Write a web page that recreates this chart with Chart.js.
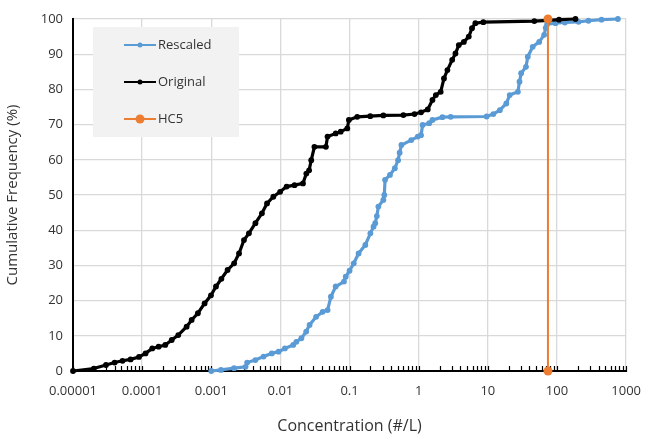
<!DOCTYPE html>
<html><head><meta charset="utf-8">
<script src="https://cdn.jsdelivr.net/npm/chart.js@4/dist/chart.umd.min.js"></script>
<style>html,body{margin:0;padding:0;background:#fff}#wrap{width:653px;height:436px;position:relative}</style>
</head><body><div id="wrap"><canvas id="c" width="653" height="436"></canvas></div>
<script>
const seriesNames = ['Rescaled', 'Original', 'HC5'];
const seriesColors = ['#5b9bd5', '#000000', '#ed7d31'];

const rescaledX = [0.001, 0.00138, 0.00214, 0.00313, 0.0033, 0.00434, 0.0057, 0.0075, 0.0094, 0.0116, 0.0153, 0.017, 0.0201, 0.0236, 0.0264, 0.0328, 0.0408, 0.0481, 0.0537, 0.063, 0.083, 0.088, 0.1, 0.115, 0.135, 0.169, 0.2, 0.222, 0.235, 0.248, 0.261, 0.308, 0.318, 0.326, 0.384, 0.452, 0.503, 0.53, 0.562, 0.78, 0.97, 1.08, 1.14, 1.42, 1.58, 2.2, 2.9, 9.6, 12, 14.9, 18.5, 20.7, 27.2, 28.7, 30.3, 35.6, 37.8, 44.5, 55.3, 65.2, 68.7, 72, 95, 130, 205, 285, 440, 760];
const rescaledY = [0, 0.3, 0.8, 1.2, 2.4, 3.1, 4.1, 5.0, 5.5, 6.4, 7.4, 8.3, 9.3, 11.2, 13.1, 15.4, 16.8, 17.3, 21.1, 24.0, 25.4, 26.8, 28.5, 30.6, 33.4, 35.8, 39.1, 41.0, 42.0, 44.0, 46.7, 48.6, 50.0, 54.3, 55.7, 57.6, 59.9, 62.0, 64.2, 65.6, 66.6, 67.0, 69.9, 70.4, 71.3, 72.1, 72.2, 72.3, 73.0, 74.1, 76.0, 78.4, 79.3, 82.2, 84.6, 86.4, 89.3, 92.1, 93.5, 95.5, 97.5, 98.5, 98.8, 99.0, 99.2, 99.5, 99.8, 100];

const originalX = [0.00001, 0.00002, 0.00003, 0.00004, 0.000052, 0.000068, 0.00009, 0.000112, 0.00014, 0.000173, 0.000216, 0.000268, 0.000333, 0.00044, 0.00052, 0.00064, 0.0008, 0.00099, 0.00117, 0.0014, 0.00172, 0.00214, 0.00252, 0.00297, 0.0035, 0.00435, 0.0054, 0.0064, 0.0079, 0.0099, 0.0123, 0.016, 0.0212, 0.0237, 0.026, 0.0279, 0.031, 0.0455, 0.048, 0.063, 0.0745, 0.0927, 0.0977, 0.129, 0.199, 0.308, 0.6, 0.87, 1.08, 1.35, 1.58, 1.77, 2.08, 2.32, 2.6, 3.05, 3.4, 3.8, 4.5, 5.3, 5.9, 6.6, 8.6, 47, 75, 107, 185];
const originalY = [0, 0.7, 1.7, 2.4, 2.9, 3.3, 4.0, 5.0, 6.4, 6.9, 7.4, 8.8, 10.2, 12.6, 14.5, 16.4, 19.2, 21.5, 24.0, 26.2, 28.7, 30.6, 33.4, 37.2, 39.1, 42.0, 44.8, 47.6, 49.5, 50.9, 52.4, 52.8, 53.3, 56.1, 57.0, 59.9, 63.7, 63.7, 66.6, 67.5, 68.0, 68.9, 71.3, 72.2, 72.4, 72.6, 72.7, 73.0, 73.5, 74.3, 77.0, 78.4, 79.3, 83.1, 85.5, 88.4, 90.2, 92.6, 93.5, 95.0, 97.4, 98.8, 99.1, 99.4, 99.6, 99.8, 100];

const hc5X = [74, 74];
const hc5Y = [0, 100];

const xTickLabels = ['0.00001', '0.0001', '0.001', '0.01', '0.1', '1', '10', '100', '1000'];
const xDecadeExponents = [-5, -4, -3, -2, -1, 0, 1, 2];
const minorMantissas = [1, 2, 3, 4, 5, 6, 7, 8, 9];
const yTickValues = [0, 10, 20, 30, 40, 50, 60, 70, 80, 90, 100];

const toPts = (xs, ys) => xs.map((x, i) => ({x: x, y: ys[i]}));
const isMajor = v => Math.abs(Math.log10(v) - Math.round(Math.log10(v))) < 1e-6;
const FONT = '"Open Sans", "DejaVu Sans", sans-serif';

const boxLegend = {
  id: 'boxLegend',
  beforeDatasetsDraw(chart) {
    // inward tick marks on the x axis (every 1..9 x 10^n)
    const ctx = chart.ctx;
    const xs = chart.scales.x;
    const bottom = chart.chartArea.bottom;
    ctx.save();
    ctx.strokeStyle = '#000';
    ctx.lineWidth = 1.2;
    const vals = [];
    xDecadeExponents.forEach(e => minorMantissas.forEach(m => vals.push(m * Math.pow(10, e))));
    vals.push(1000);
    vals.forEach(v => {
      const px = Math.round(xs.getPixelForValue(v)) + 0.5;
      ctx.beginPath(); ctx.moveTo(px, bottom - 5); ctx.lineTo(px, bottom + 1); ctx.stroke();
    });
    ctx.restore();
  },
  afterDraw(chart) {
    const ctx = chart.ctx;
    ctx.save();
    ctx.fillStyle = '#f2f2f2';
    ctx.fillRect(93, 27, 146, 110);
    const radii = [2.5, 2.5, 4.5];
    const ys = [45, 82, 119];
    seriesNames.forEach((name, i) => {
      const y = ys[i];
      ctx.strokeStyle = seriesColors[i];
      ctx.lineWidth = 2;
      ctx.beginPath(); ctx.moveTo(124, y); ctx.lineTo(156, y); ctx.stroke();
      ctx.fillStyle = seriesColors[i];
      ctx.beginPath(); ctx.arc(140, y, radii[i], 0, Math.PI * 2); ctx.fill();
      ctx.fillStyle = '#333333';
      ctx.font = '13px ' + FONT;
      ctx.textBaseline = 'middle';
      ctx.textAlign = 'left';
      ctx.fillText(name, 158, y);
    });
    ctx.restore();
  }
};

new Chart(document.getElementById('c'), {
  type: 'scatter',
  data: {
    datasets: [
      {label: seriesNames[0], data: toPts(rescaledX, rescaledY), showLine: true, borderColor: seriesColors[0], backgroundColor: seriesColors[0], borderWidth: 3.2, pointRadius: 2.9, pointBorderWidth: 0, order: 2, clip: 8},
      {label: seriesNames[1], data: toPts(originalX, originalY), showLine: true, borderColor: seriesColors[1], backgroundColor: seriesColors[1], borderWidth: 3.2, pointRadius: 2.9, pointBorderWidth: 0, order: 1, clip: 8},
      {label: seriesNames[2], data: toPts(hc5X, hc5Y), showLine: true, borderColor: seriesColors[2], backgroundColor: seriesColors[2], borderWidth: 2, pointRadius: 4.5, pointBorderWidth: 0, order: 0, clip: 8}
    ]
  },
  options: {
    responsive: false,
    animation: false,
    devicePixelRatio: 1,
    layout: {padding: {top: 19, right: 18, left: 0, bottom: 0}},
    plugins: {legend: {display: false}, tooltip: {enabled: false}},
    scales: {
      x: {
        type: 'logarithmic',
        min: 0.00001, max: 1000,
        afterFit: s => { s.height = 65; },
        border: {color: '#000', width: 2},
        grid: {
          drawTicks: false,
          color: c => (c.tick && isMajor(c.tick.value)) ? '#d9d9d9' : 'rgba(0,0,0,0)',
          lineWidth: 1.3
        },
        ticks: {
          autoSkip: false, maxRotation: 0, padding: 12,
          color: '#333333', font: {family: FONT, size: 13},
          callback: v => isMajor(v) ? xTickLabels[Math.round(Math.log10(v)) + 5] : null
        },
        title: {display: true, text: 'Concentration (#/L)', color: '#333333', font: {family: FONT, size: 16}, padding: {top: 0, bottom: 0}}
      },
      y: {
        min: 0, max: 100,
        afterFit: s => { s.width = 73; },
        afterBuildTicks: s => { s.ticks = yTickValues.map(v => ({value: v})); },
        border: {color: '#000', width: 2},
        grid: {drawTicks: false, color: '#d9d9d9', lineWidth: 1.3},
        ticks: {padding: 10, color: '#333333', font: {family: FONT, size: 13}},
        title: {display: true, text: 'Cumulative Frequency (%)', color: '#333333', font: {family: FONT, size: 15}, padding: {top: 4, bottom: 0}}
      }
    }
  },
  plugins: [boxLegend]
});
</script>
</body></html>
